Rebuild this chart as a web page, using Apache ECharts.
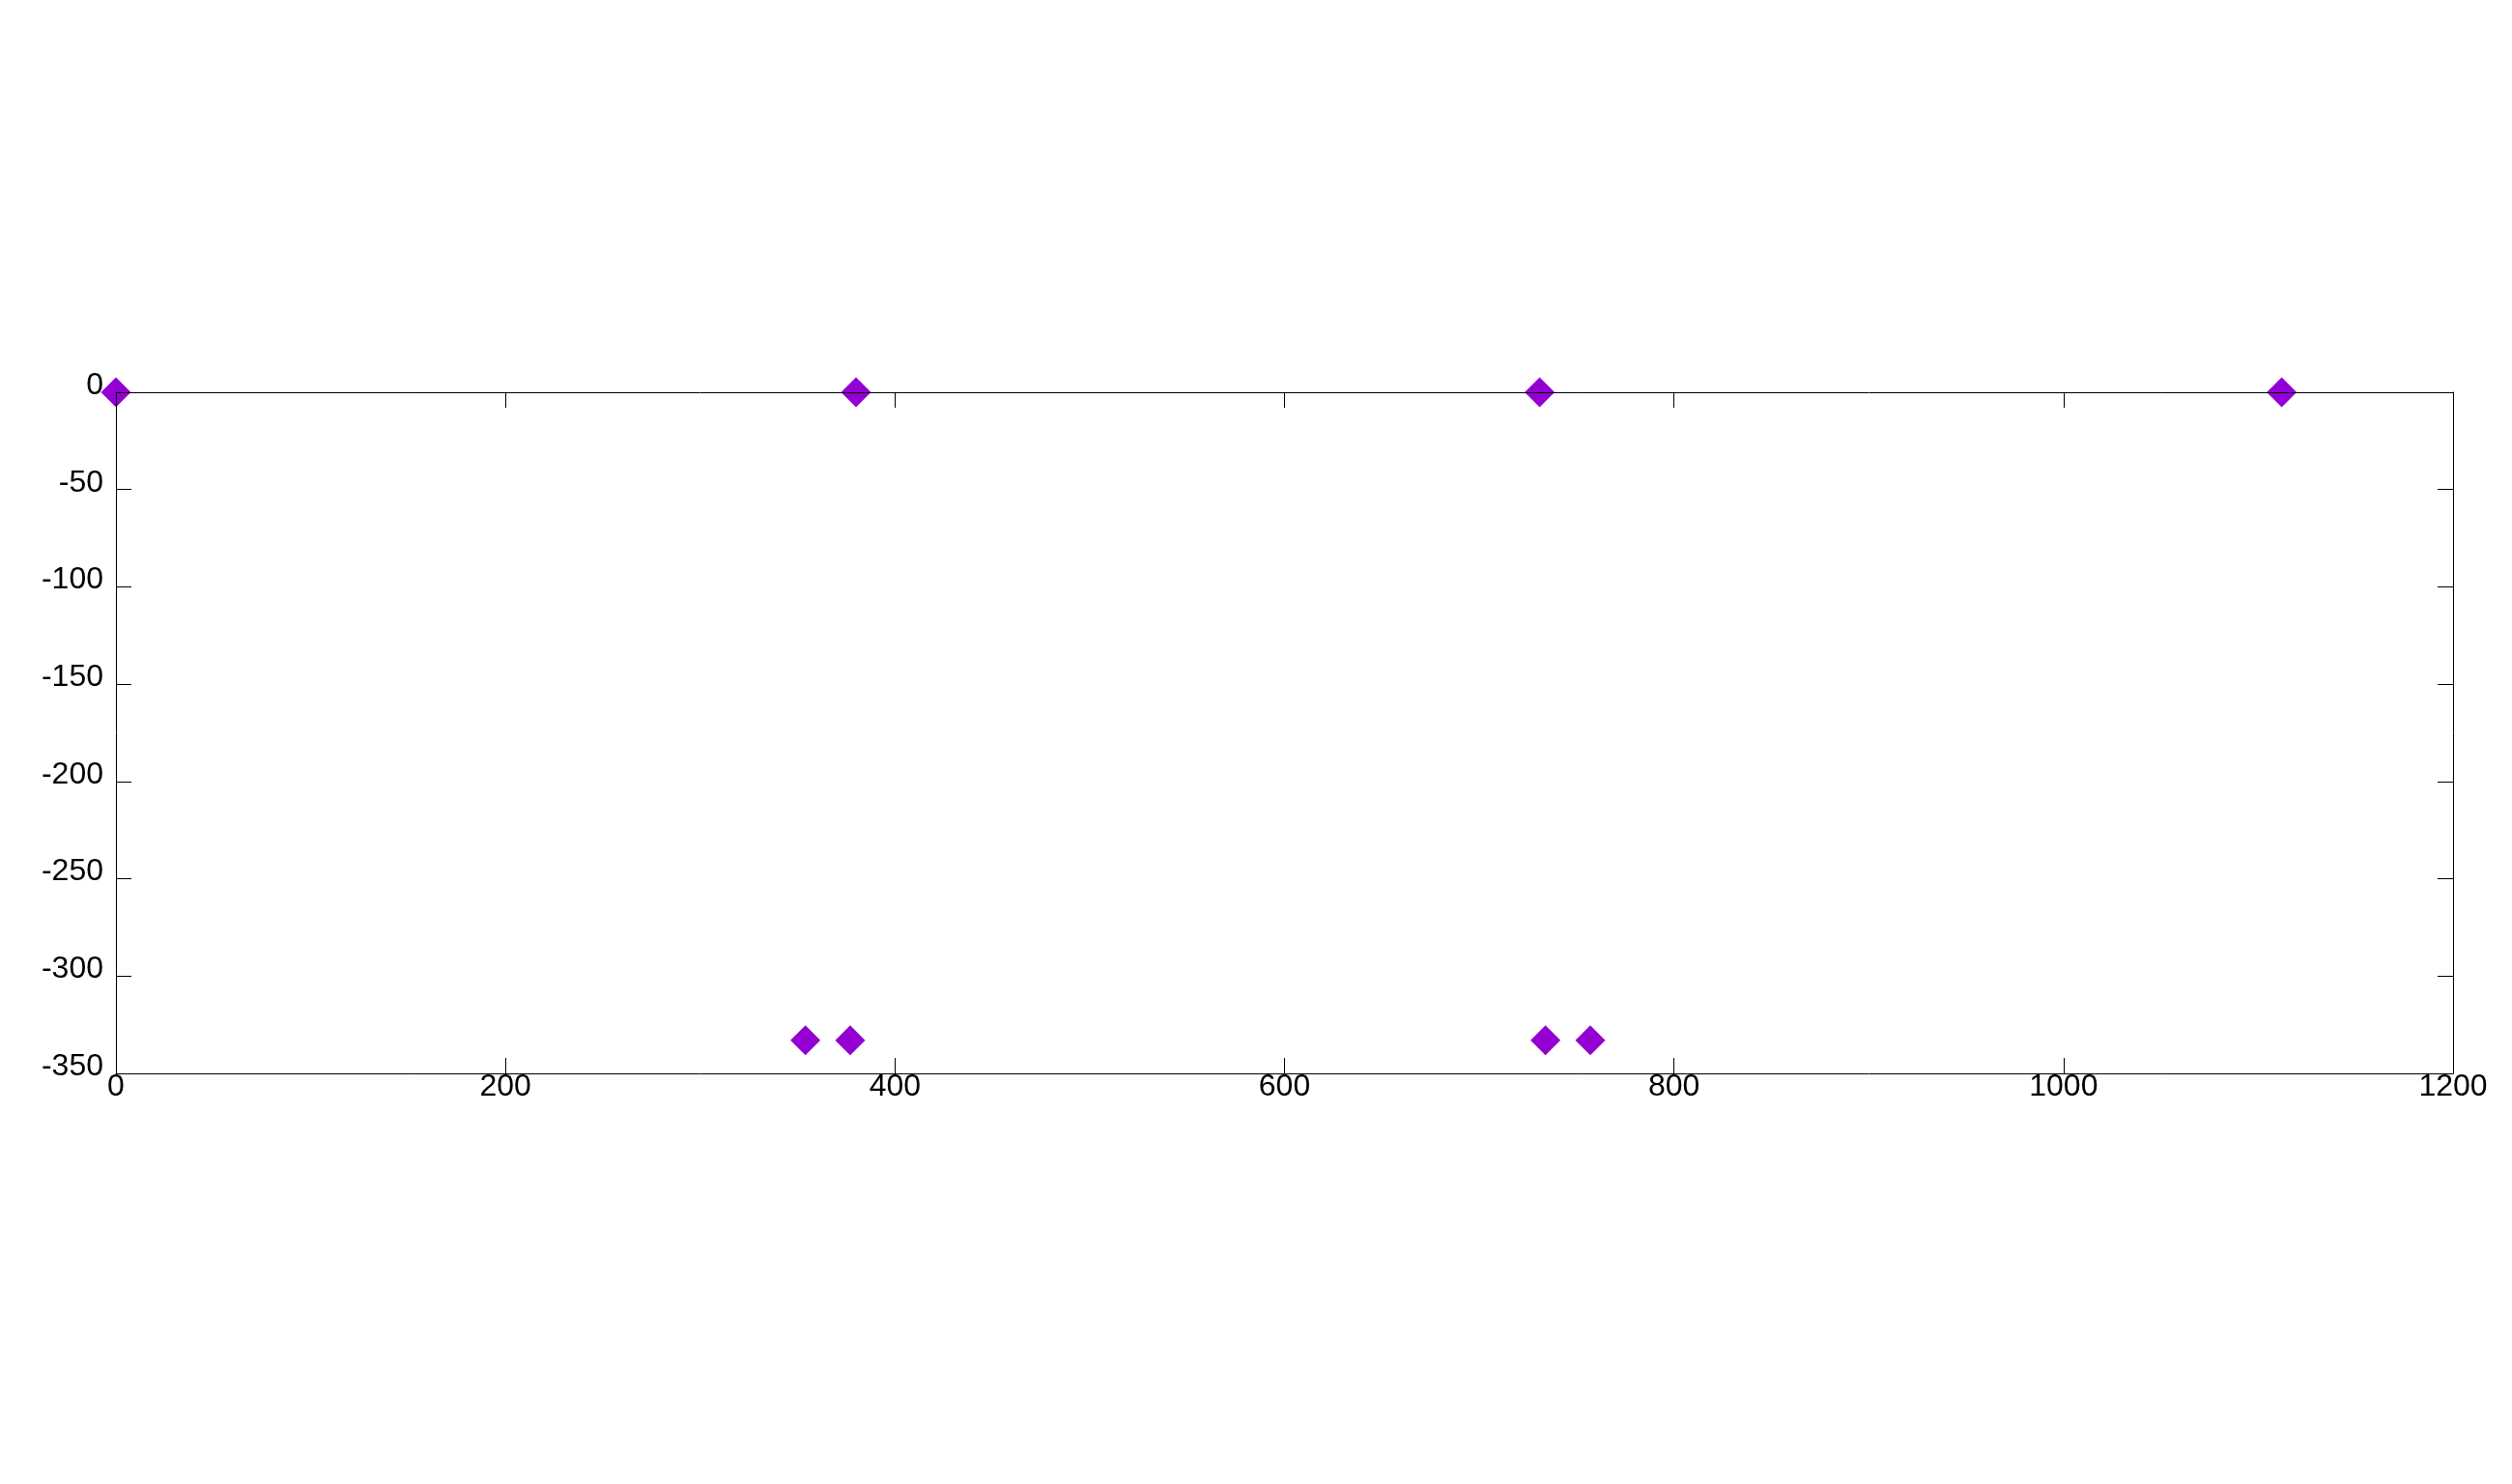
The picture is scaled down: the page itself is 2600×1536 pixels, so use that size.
<!DOCTYPE html>
<html>
<head>
<meta charset="utf-8">
<script src="https://cdn.jsdelivr.net/npm/echarts@6/dist/echarts.min.js"></script>
<style>html,body{margin:0;padding:0;background:#fff}#chart{width:2600px;height:1536px}</style>
</head>
<body>
<div id="chart"></div>
<script>
// Data
var xValues = [0, 380, 731, 1112, 354, 377, 734, 757];
var yValues = [0, 0, 0, 0, -333, -333, -333, -333];
var xTicks = [0, 200, 400, 600, 800, 1000, 1200];
var yTicks = [0, -50, -100, -150, -200, -250, -300, -350];

var points = xValues.map(function (x, i) { return [x, yValues[i]]; });

var FONT = 'Liberation Sans, Arial, sans-serif';
var lineStyle = { color: '#000', width: 1 };
var plain = function (v) { return String(v); };

var chart = echarts.init(document.getElementById('chart'), null, { renderer: 'canvas' });
chart.setOption({
  backgroundColor: '#ffffff',
  animation: false,
  grid: { left: 120, top: 406, right: 61, bottom: 425, containLabel: false },
  xAxis: [{
    type: 'value', position: 'bottom', min: 0, max: 1200, interval: 200, z: 10,
    axisLine: { show: true, onZero: false, lineStyle: lineStyle },
    axisTick: { show: true, inside: true, length: 16, lineStyle: lineStyle },
    axisLabel: { show: true, color: '#000', fontSize: 32, fontFamily: FONT, margin: -2,
      formatter: plain, showMinLabel: true, showMaxLabel: true },
    splitLine: { show: false }
  }, {
    type: 'value', position: 'top', min: 0, max: 1200, interval: 200, z: 10,
    axisLine: { show: true, onZero: false, lineStyle: lineStyle },
    axisTick: { show: true, inside: true, length: 16, lineStyle: lineStyle },
    axisLabel: { show: false },
    splitLine: { show: false }
  }],
  yAxis: [{
    type: 'value', position: 'left', min: -350, max: 0, interval: 50, z: 10,
    axisLine: { show: true, onZero: false, lineStyle: lineStyle },
    axisTick: { show: true, inside: true, length: 16, lineStyle: lineStyle },
    axisLabel: { show: true, color: '#000', fontSize: 32, fontFamily: FONT, margin: 13,
      verticalAlign: 'bottom', lineHeight: 14,
      formatter: plain, showMinLabel: true, showMaxLabel: true },
    splitLine: { show: false }
  }, {
    type: 'value', position: 'right', min: -350, max: 0, interval: 50, z: 10,
    axisLine: { show: true, onZero: false, lineStyle: lineStyle },
    axisTick: { show: true, inside: true, length: 16, lineStyle: lineStyle },
    axisLabel: { show: false },
    splitLine: { show: false }
  }],
  series: [{
    type: 'scatter',
    xAxisIndex: 0, yAxisIndex: 0,
    data: points,
    symbol: 'diamond',
    symbolSize: 31,
    clip: false,
    itemStyle: { color: '#9400D3', opacity: 1 },
    z: 2
  }]
});
</script>
</body>
</html>
